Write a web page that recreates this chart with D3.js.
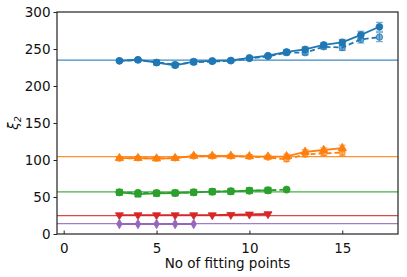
<!DOCTYPE html>
<html>
<head>
<meta charset="utf-8">
<script src="https://cdn.jsdelivr.net/npm/d3@7"></script>
<style>
  body { margin: 0; background: #fff; }
  svg { display: block; }
</style>
</head>
<body>
<svg id="chart" width="407" height="277"></svg>
<script>
// data
const xTicks = [0, 5, 10, 15];
const yTicks = [0, 50, 100, 150, 200, 250, 300];

const blueX = [3, 4, 5, 6, 7, 8, 9, 10, 11, 12, 13, 14, 15, 16, 17];
const blueSolid = [234, 235.5, 231.5, 228, 233, 234, 234.5, 238, 241, 246, 249.5, 255.5, 259, 269, 280];
const blueDashed = [234, 235, 232, 229, 232, 233, 234, 237, 240, 245, 245, 253, 252, 263, 266];
const blueErr = [2, 2, 3, 3, 3, 2, 2, 2, 2, 3, 3, 3, 4, 5, 6];

const orangeX = [3, 4, 5, 6, 7, 8, 9, 10, 11, 12, 13, 14, 15];
const orangeSolid = [102.5, 102.5, 102, 102.5, 105.5, 105.5, 105.5, 105, 104.5, 105, 111, 113.5, 116];
const orangeDashed = [102, 102.5, 102, 102.5, 105, 105, 105, 104.5, 103.5, 101, 107.5, 109, 110];
const orangeErr = [2, 2, 2, 2, 2, 2, 2, 2, 2, 3, 3, 3, 4];

const greenX = [3, 4, 5, 6, 7, 8, 9, 10, 11, 12];
const greenSolid = [56.3, 54, 55, 55.4, 56.3, 57.2, 57.7, 58.6, 59, 60];
const greenDashed = [56.3, 55.5, 55.3, 55.4, 56.3, 57.2, 57.7, 58.6, 59, 60];

const redX = [3, 4, 5, 6, 7, 8, 9, 10, 11];
const redSolid = [25.5, 25.5, 25.5, 25.5, 25.5, 25.5, 26, 26.5, 27];

const purpleX = [3, 4, 5, 6, 7];
const purpleSolid = [13.5, 13.5, 13.5, 13.5, 13.5];

const refLevels = [235, 104.5, 57, 24.7, 14];
const refColors = ['#1f77b4', '#ff7f0e', '#2ca02c', '#d62728', '#9467bd'];

const margin = {left: 57, right: 9, top: 12, bottom: 43};
const width = 407, height = 277;

const svg = d3.select('#chart');
const font = 'DejaVu Sans, sans-serif';

const x = d3.scaleLinear().domain([-0.36, 18]).range([margin.left, width - margin.right]);
const y = d3.scaleLinear().domain([0, 300]).range([height - margin.bottom, margin.top]);

const g = svg.append('g');

// reference lines
refLevels.forEach((v, i) => {
    g.append('line')
        .attr('x1', x.range()[0]).attr('x2', x.range()[1])
        .attr('y1', y(v)).attr('y2', y(v))
        .style('stroke', refColors[i])
        .style('stroke-width', 1.2)
        .style('opacity', 0.85);
});

function drawSeries(xs, ys, color, opts) {
    const pts = xs.map((d, i) => ({x: d, y: ys[i], e: opts.err ? opts.err[i] : 0}));
    const line = d3.line().x(d => x(d.x)).y(d => y(d.y));
    g.append('path')
        .datum(pts)
        .attr('d', line)
        .style('fill', 'none')
        .style('stroke', color)
        .style('stroke-width', 1.8)
        .style('stroke-dasharray', opts.dashed ? '5,3' : null);

    if (opts.err) {
        const eb = g.append('g').style('stroke', color).style('opacity', 0.6).style('stroke-width', 1.2);
        pts.forEach(d => {
            eb.append('line').attr('x1', x(d.x)).attr('x2', x(d.x))
                .attr('y1', y(d.y - d.e)).attr('y2', y(d.y + d.e));
            [d.y - d.e, d.y + d.e].forEach(v => {
                eb.append('line').attr('x1', x(d.x) - 3.5).attr('x2', x(d.x) + 3.5)
                    .attr('y1', y(v)).attr('y2', y(v));
            });
        });
    }

    const sym = d3.symbol().type(opts.symbol).size(opts.size);
    g.append('g').selectAll('path')
        .data(pts)
        .join('path')
        .attr('d', sym)
        .attr('transform', d => 'translate(' + x(d.x) + ',' + y(d.y) + ')' + (opts.rotate ? ' rotate(' + opts.rotate + ')' : ''))
        .style('fill', color)
        .style('fill-opacity', opts.fade ? 0.6 : 1)
        .style('stroke', color)
        .style('stroke-width', 0.8);
}

drawSeries(blueX, blueDashed, '#1f77b4', {dashed: true, fade: true, err: blueErr, symbol: d3.symbolCircle, size: 32});
drawSeries(blueX, blueSolid, '#1f77b4', {err: blueErr, symbol: d3.symbolCircle, size: 36});
drawSeries(orangeX, orangeDashed, '#ff7f0e', {dashed: true, fade: true, err: orangeErr, symbol: d3.symbolCircle, size: 26});
drawSeries(orangeX, orangeSolid, '#ff7f0e', {err: orangeErr, symbol: d3.symbolTriangle, size: 30});
drawSeries(greenX, greenDashed, '#2ca02c', {dashed: true, symbol: d3.symbolCircle, size: 40});
drawSeries(greenX.slice(0, 9), greenSolid.slice(0, 9), '#2ca02c', {symbol: d3.symbolSquare, size: 38});
drawSeries(redX, redSolid, '#d62728', {symbol: d3.symbolTriangle, size: 28, rotate: 180});
drawSeries(purpleX, purpleSolid, '#9467bd', {symbol: d3.symbolDiamond, size: 26});

// frame
g.append('rect')
    .attr('x', margin.left).attr('y', margin.top)
    .attr('width', width - margin.left - margin.right)
    .attr('height', height - margin.top - margin.bottom)
    .style('fill', 'none')
    .style('stroke', '#222')
    .style('stroke-width', 1.2);

// axes
const xAxis = d3.axisBottom(x).tickValues(xTicks).tickSizeInner(-3.5).tickSizeOuter(0).tickPadding(9);
const yAxis = d3.axisLeft(y).tickValues(yTicks).tickSizeInner(3.5).tickSizeOuter(0).tickPadding(3);

const gx = svg.append('g').attr('transform', 'translate(0,' + (height - margin.bottom) + ')').call(xAxis);
const gy = svg.append('g').attr('transform', 'translate(' + margin.left + ',0)').call(yAxis);
[gx, gy].forEach(a => {
    a.select('.domain').remove();
    a.selectAll('text').attr('font-family', font).attr('font-size', 13.5).attr('fill', '#111');
    a.selectAll('line').style('stroke', '#222');
});

svg.append('text')
    .text('No of fitting points')
    .attr('x', (margin.left + width - margin.right) / 2)
    .attr('y', 268)
    .attr('text-anchor', 'middle')
    .attr('font-family', font)
    .attr('font-size', 13.5)
    .attr('fill', '#111');

svg.append('text')
    .attr('transform', 'translate(18,' + (margin.top + (height - margin.bottom - margin.top) / 2) + ') rotate(-90)')
    .attr('text-anchor', 'middle')
    .attr('font-family', font)
    .attr('font-size', 13.5)
    .attr('font-style', 'italic')
    .attr('fill', '#111')
    .html('ξ<tspan font-size="9.5" dy="3">2</tspan>');
</script>
</body>
</html>
